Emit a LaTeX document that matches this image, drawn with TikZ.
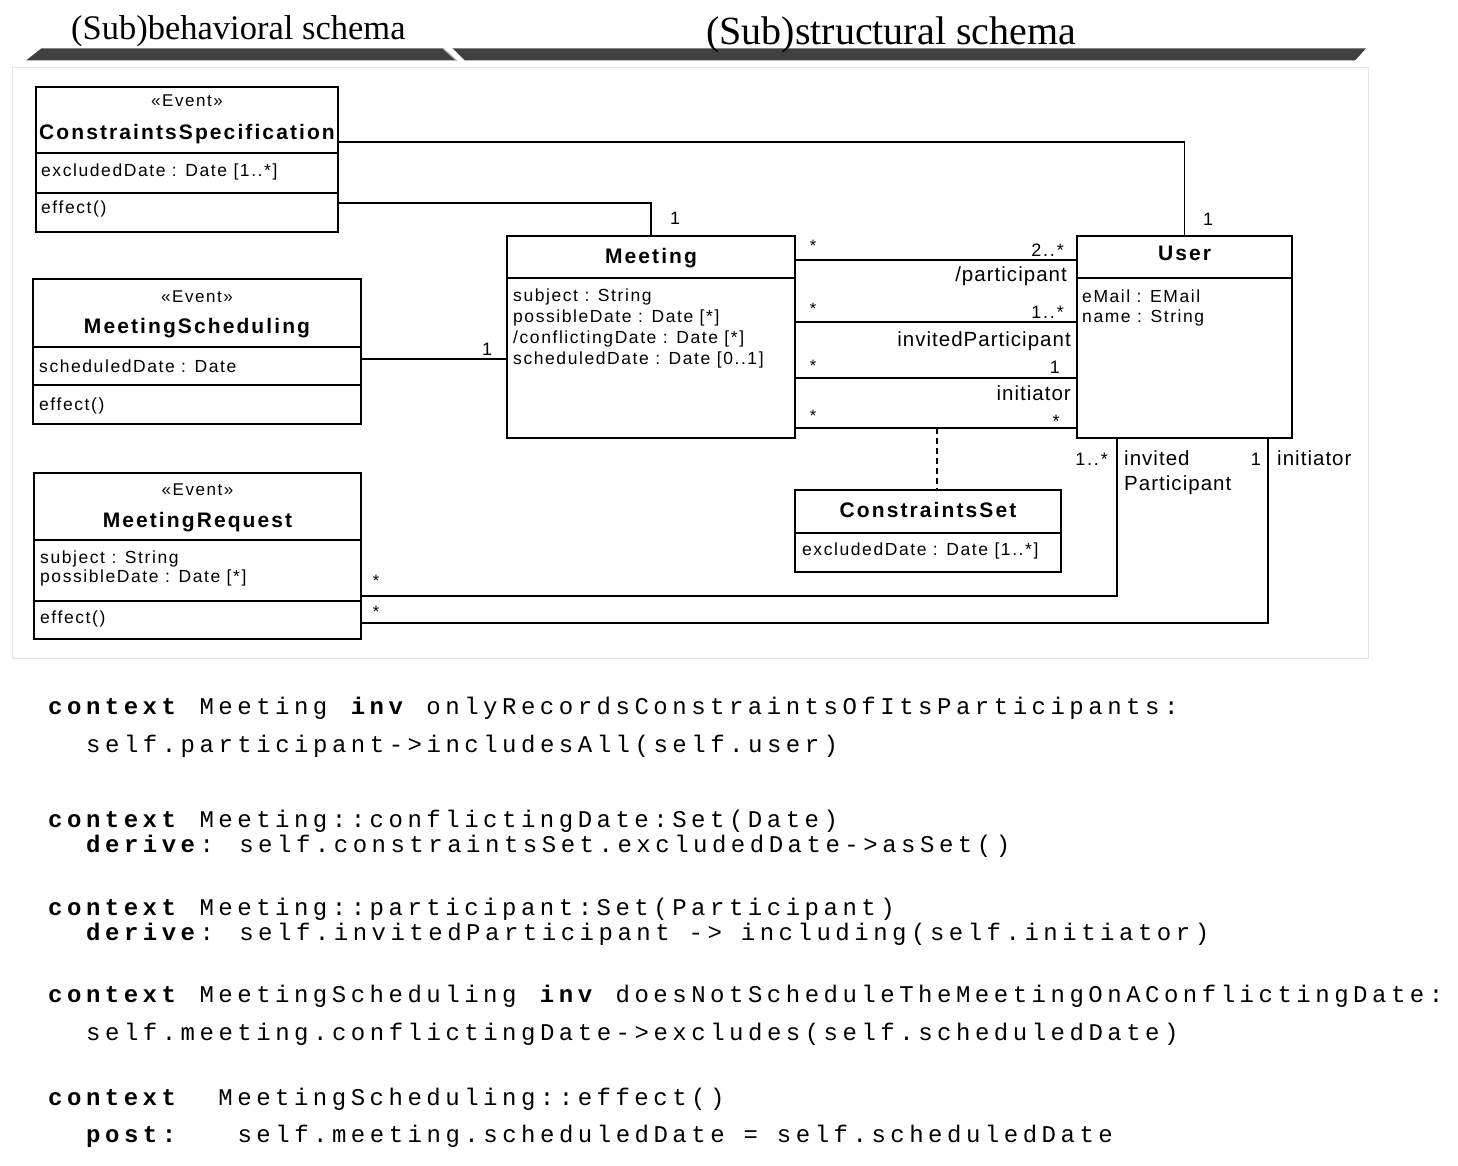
\documentclass[tikz,border=0pt]{standalone}
\usepackage{fontspec}
\usepackage{tikz}
\usetikzlibrary{calc}
\newfontfamily\UmlFont[LetterSpace=9]{Liberation Sans}
\newfontfamily\UmlNameFamily[LetterSpace=10]{Liberation Sans}
\newfontfamily\RoleFont[LetterSpace=5]{Liberation Sans}
\newfontfamily\SchemaFont{Liberation Serif}
\newfontfamily\OclFont[LetterSpace=18.8]{Liberation Mono}
\definecolor{barGray}{HTML}{404040}
\definecolor{frameGray}{HTML}{E4E4E4}
\newcommand{\UmlCompartmentFont}{\UmlFont\fontsize{17.5}{20}\selectfont}
\newcommand{\UmlNameFont}{\UmlNameFamily\bfseries\fontsize{21}{24}\selectfont}
\newcommand{\CompartmentLine}[2]{%
    \draw[compline] ([yshift=-#2pt]#1.north west) -- ([yshift=-#2pt]#1.north east);%
}
\tikzset{
  umlbox/.style={draw, line width=2pt, inner sep=0pt, outer sep=0pt},
  compline/.style={line width=2pt},
  assoc/.style={line width=1.8pt},
  constraintlink/.style={line width=1.2pt, dash pattern=on 6pt off 4pt},
  stereo/.style={font=\UmlFont\fontsize{17}{19}\selectfont, anchor=base, inner sep=0pt},
  classname/.style={font=\UmlNameFont, anchor=base, inner sep=0pt},
  attr/.style={font=\UmlCompartmentFont, anchor=base west, inner sep=0pt},
  mult/.style={font=\UmlNameFamily\fontsize{18}{20}\selectfont, inner sep=0pt},
  star/.style={font=\UmlNameFamily\fontsize{16.5}{18}\selectfont, anchor=base, inner sep=0pt},
  role/.style={font=\RoleFont\fontsize{20.5}{24}\selectfont, inner sep=0pt},
  ocl/.style={font=\OclFont\fontsize{24}{30}\selectfont, anchor=base west, inner sep=0pt},
  heading/.style={anchor=base west, inner sep=0pt},
  headbar/.style={fill=barGray},
  frame/.style={draw=frameGray, line width=1pt}
}
\begin{document}
\begin{tikzpicture}[x=1pt, y=-1pt]
    \useasboundingbox (0,0) rectangle (1458,1166);
    % schema headings
    \fill[headbar] (26,60.5) -- (41.5,48.3) -- (443,48.3) -- (456.5,60.5) -- cycle;
    \draw[black!30, line width=1.2pt] (443,48.3) -- (456.5,60.5);
    \fill[headbar] (452.5,48.3) -- (1366,48.3) -- (1355,60.5) -- (465,60.5) -- cycle;
    \node[heading, font=\SchemaFont\fontsize{34.5}{40}\selectfont] (behavHead) at (71,40) {(Sub)behavioral schema};
    \node[heading, font=\SchemaFont\fontsize{40}{46}\selectfont] (structHead) at (706,45) {(Sub)structural schema};
    \draw[frame] (12,68) rectangle (1368,658);

    % event classes
    \node[umlbox, minimum width=302, minimum height=145] (spec) at (187,159.5) {};
    \CompartmentLine{spec}{66}
    \CompartmentLine{spec}{106}
    \node[stereo] (specStereo) at (187,107) {«Event»};
    \node[classname] (specName) at (187,140) {ConstraintsSpecification};
    \node[attr] (specAttr) at (41,177) {excludedDate : Date [1..*]};
    \node[attr] (specOp) at (41,214) {effect()};

    \node[umlbox, minimum width=328, minimum height=145] (sched) at (197,351.5) {};
    \CompartmentLine{sched}{68}
    \CompartmentLine{sched}{106}
    \node[stereo] (schedStereo) at (197,302) {«Event»};
    \node[classname] (schedName) at (197,333) {MeetingScheduling};
    \node[attr] (schedAttr) at (39,372) {scheduledDate : Date};
    \node[attr] (schedOp) at (39,410) {effect()};

    \node[umlbox, minimum width=327, minimum height=166] (req) at (197.5,556) {};
    \CompartmentLine{req}{67}
    \CompartmentLine{req}{128}
    \node[stereo] (reqStereo) at (197.5,495) {«Event»};
    \node[classname] (reqName) at (197.5,527) {MeetingRequest};
    \node[attr] (reqSubject) at (40,563) {subject : String};
    \node[attr] (reqDates) at (40,582) {possibleDate : Date [*]};
    \node[attr] (reqOp) at (40,623) {effect()};

    % structural classes
    \node[umlbox, minimum width=288, minimum height=202] (meeting) at (651,337) {};
    \CompartmentLine{meeting}{42}
    \node[classname] (meetingName) at (651,263) {Meeting};
    \node[attr] (meetingSubject) at (513,301) {subject : String};
    \node[attr] (meetingPossible) at (513,322) {possibleDate : Date [*]};
    \node[attr] (meetingConflict) at (513,343) {/conflictingDate : Date [*]};
    \node[attr] (meetingSched) at (513,364) {scheduledDate : Date [0..1]};

    \node[umlbox, minimum width=215, minimum height=202] (user) at (1184.5,337) {};
    \CompartmentLine{user}{42}
    \node[classname] (userName) at (1184.5,261) {User};
    \node[attr] (userMail) at (1082,302) {eMail : EMail};
    \node[attr] (userName2) at (1082,322) {name : String};

    \node[umlbox, minimum width=266, minimum height=82] (cset) at (928,531) {};
    \CompartmentLine{cset}{43}
    \node[classname] (csetName) at (928,517) {ConstraintsSet};
    \node[attr] (csetAttr) at (802,555) {excludedDate : Date [1..*]};

    % associations
    \draw[assoc] (spec.east |- 0,142) -| (user.north);
    \draw[assoc] (spec.east |- 0,203) -| (meeting.north);
    \draw[assoc] (sched.east |- 0,359) -- (meeting.west |- 0,359);
    \foreach \y in {260,322,378,428}
        \draw[assoc] (meeting.east |- 0,\y) -- (user.west |- 0,\y);
    \draw[assoc] (user.south -| 1117,0) |- (req.east |- 0,596);
    \draw[assoc] (user.south -| 1268,0) |- (req.east |- 0,623);
    \coordinate (initMid) at (937,428);
    \draw[constraintlink] (initMid) -- (initMid |- cset.north);

    % multiplicities and roles
    \node[mult, anchor=base] (mSpecMeeting) at (675,225) {1};
    \node[mult, anchor=base] (mSpecUser) at (1208,226) {1};
    \node[mult, anchor=base] (mSchedMeeting) at (487,355) {1};
    \node[star] (sPart) at (813,252) {*};
    \node[star] (sInvited) at (813,314) {*};
    \node[star] (sInit) at (813,371) {*};
    \node[star] (sMeetInit) at (813,421) {*};
    \node[mult, anchor=base east] (mPart) at (1064,257) {2..*};
    \node[role, anchor=base east] (rPart) at (1067,281) {/participant};
    \node[mult, anchor=base east] (mInvited) at (1064,318) {1..*};
    \node[role, anchor=base east] (rInvited) at (1071,346) {invitedParticipant};
    \node[mult, anchor=base east] (mInit) at (1060,373) {1};
    \node[role, anchor=base east] (rInit) at (1071,400) {initiator};
    \node[mult, anchor=base] (mMeetInit) at (1056,427) {*};
    \node[star] (sReqInvited) at (376,586) {*};
    \node[star] (sReqInit) at (376,617) {*};
    \node[mult, anchor=base east] (mReqInvited) at (1108,465) {1..*};
    \node[role, anchor=base west] (rReqInvited) at (1124,465) {invited};
    \node[role, anchor=base west] (rReqInvited2) at (1124,490) {Participant};
    \node[mult, anchor=base east] (mReqInit) at (1261,465) {1};
    \node[role, anchor=base west] (rReqInit) at (1277,465) {initiator};

    % OCL constraints
    \node[ocl] (ocl1) at (48,714) {\textbf{context} Meeting \textbf{inv} onlyRecordsConstraintsOfItsParticipants:};
    \node[ocl] (ocl2) at (86,752) {self.participant->includesAll(self.user)};
    \node[ocl] (ocl3) at (48,827) {\textbf{context} Meeting::conflictingDate:Set(Date)};
    \node[ocl] (ocl4) at (86,852) {\textbf{derive}: self.constraintsSet.excludedDate->asSet()};
    \node[ocl] (ocl5) at (48,915) {\textbf{context} Meeting::participant:Set(Participant)};
    \node[ocl] (ocl6) at (86,940) {\textbf{derive}: self.invitedParticipant -> including(self.initiator)};
    \node[ocl] (ocl7) at (48,1002) {\textbf{context} MeetingScheduling \textbf{inv} doesNotScheduleTheMeetingOnAConflictingDate:};
    \node[ocl] (ocl8) at (86,1040) {self.meeting.conflictingDate->excludes(self.scheduledDate)};
    \node[ocl] (ocl9) at (48,1105) {\textbf{context}\ \ MeetingScheduling::effect()};
    \node[ocl] (ocl10) at (86,1142) {\textbf{post:}\ \ \ self.meeting.scheduledDate = self.scheduledDate};
\end{tikzpicture}
\end{document}
